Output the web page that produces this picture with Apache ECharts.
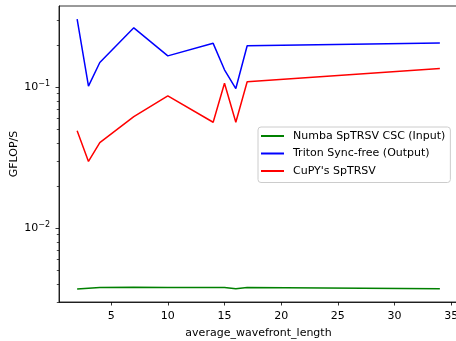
<!DOCTYPE html>
<html>
<head>
<meta charset="utf-8">
<script src="https://cdn.jsdelivr.net/npm/echarts@6/dist/echarts.min.js"></script>
<style>html,body{margin:0;padding:0;background:#fff}#c{width:456px;height:341px}</style>
</head>
<body>
<div id="c"></div>
<script>
const wavefront = [2, 3, 4, 7, 10, 14, 15, 16, 17, 34];
const numbaCSC = [0.00371, 0.00376, 0.00380, 0.00382, 0.00380, 0.00380, 0.00380, 0.00373, 0.00380, 0.00372];
const tritonSyncFree = [0.305, 0.102, 0.150, 0.264, 0.167, 0.205, 0.133, 0.098, 0.197, 0.206];
const cupySpTRSV = [0.0492, 0.0298, 0.0405, 0.0619, 0.0868, 0.0565, 0.1067, 0.0565, 0.1096, 0.136];
const seriesNames = ['Numba SpTRSV CSC (Input)', 'Triton Sync-free (Output)', "CuPY's SpTRSV"];
const xTicks = [5, 10, 15, 20, 25, 30, 35];
const yMajor = [0.01, 0.1];
const yMinor = [0.003, 0.004, 0.005, 0.006, 0.007, 0.008, 0.009, 0.02, 0.03, 0.04, 0.05, 0.06, 0.07, 0.08, 0.09, 0.2, 0.3];

const font = 'DejaVu Sans';
const fs = 11;
const pair = arr => wavefront.map((x, i) => [x, arr[i]]);
const colors = ['#008000', '#0000ff', '#ff0000'];
const chart = echarts.init(document.getElementById('c'), null, {renderer: 'canvas'});
const yMin = 0.003, yMax = 0.3772;
const gridRect = {left: 59, top: 6, width: 399, height: 296, containLabel: false, outerBoundsMode: 'none'};
chart.setOption({
  animation: false,
  textStyle: {fontFamily: font},
  grid: [
    Object.assign({show: true, borderColor: '#000', borderWidth: 0.8}, gridRect),
    Object.assign({show: false}, gridRect)
  ],
  xAxis: [{
    gridIndex: 0, type: 'value', min: 0.4, max: 35.6,
    name: 'average_wavefront_length', nameLocation: 'middle', nameGap: 26, nameMoveOverlap: false,
    nameTextStyle: {fontFamily: font, fontSize: fs, color: '#000'},
    axisLine: {show: true, lineStyle: {color: '#000', width: 0.8}},
    axisTick: {show: true, length: 3.5, lineStyle: {color: '#000', width: 0.8}, customValues: xTicks},
    axisLabel: {fontFamily: font, fontSize: fs, color: '#000', margin: 9, customValues: xTicks},
    splitLine: {show: false}
  }, {
    gridIndex: 1, type: 'value', min: 0.4, max: 35.6, show: false
  }],
  yAxis: [{
    gridIndex: 0, type: 'log', logBase: 10, min: yMin, max: yMax,
    name: 'GFLOP/S', nameLocation: 'middle', nameGap: 39, nameRotate: 90, nameMoveOverlap: false,
    nameTextStyle: {fontFamily: font, fontSize: fs, color: '#000'},
    axisLine: {show: true, lineStyle: {color: '#000', width: 0.8}},
    axisTick: {show: true, length: 3.5, lineStyle: {color: '#000', width: 0.8}, customValues: yMajor},
    axisLabel: {
      fontFamily: font, fontSize: fs, color: '#000', margin: 9, customValues: yMajor,
      formatter: v => '10{s|−' + Math.round(-Math.log10(v)) + '}',
      rich: {s: {fontFamily: font, fontSize: 8, color: '#000', verticalAlign: 'bottom', padding: [0, 0, 6, 0]}}
    },
    splitLine: {show: false}
  }, {
    gridIndex: 1, type: 'log', logBase: 10, min: yMin, max: yMax, position: 'left',
    axisLine: {show: false},
    axisTick: {show: true, length: 2.2, lineStyle: {color: '#000', width: 0.7}, customValues: yMinor},
    axisLabel: {show: false},
    splitLine: {show: false}
  }],
  legend: {
    orient: 'vertical', left: 258, top: 127,
    data: seriesNames,
    icon: 'rect', itemWidth: 23, itemHeight: 2, itemGap: 4.5,
    padding: [2.5, 5, 5, 3],
    backgroundColor: 'rgba(255,255,255,0.8)',
    borderColor: '#cccccc', borderWidth: 1, borderRadius: 3,
    textStyle: {fontFamily: font, fontSize: fs, color: '#000', lineHeight: 13, padding: [0, 0, 0, 4]}
  },
  series: [
    {name: seriesNames[0], type: 'line', data: pair(numbaCSC), showSymbol: false, color: colors[0], lineStyle: {width: 1.5}},
    {name: seriesNames[1], type: 'line', data: pair(tritonSyncFree), showSymbol: false, color: colors[1], lineStyle: {width: 1.5}},
    {name: seriesNames[2], type: 'line', data: pair(cupySpTRSV), showSymbol: false, color: colors[2], lineStyle: {width: 1.5}}
  ]
});
</script>
</body>
</html>
